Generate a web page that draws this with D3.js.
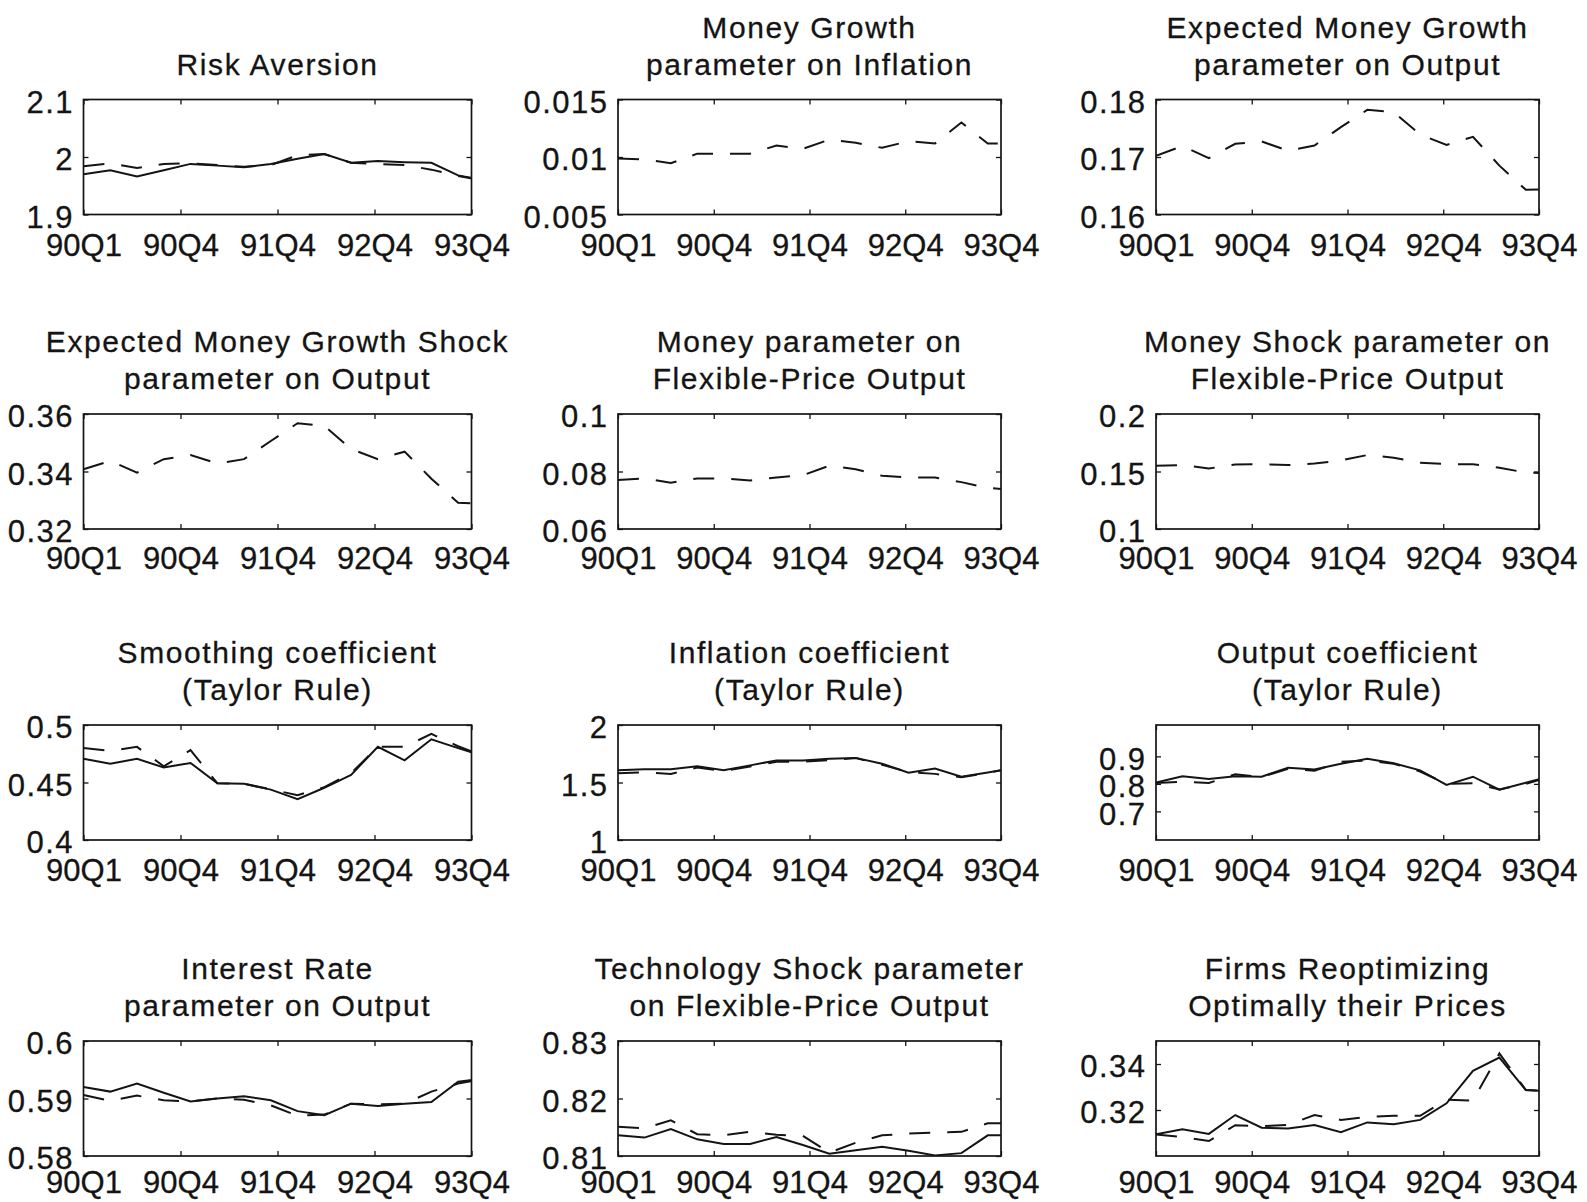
<!DOCTYPE html>
<html>
<head>
<meta charset="utf-8">
<script src="https://cdn.jsdelivr.net/npm/d3@7"></script>
<style>
  html, body { margin: 0; padding: 0; background: #fff; }
  svg { display: block; font-family: "Liberation Sans", Arial, Helvetica, sans-serif; }
</style>
</head>
<body>
<svg id="chart" width="1587" height="1202"></svg>
<script>
// Quarterly sample, 1990Q1 to 1993Q4
const quarters = ["90Q1","90Q2","90Q3","90Q4","91Q1","91Q2","91Q3","91Q4",
                  "92Q1","92Q2","92Q3","92Q4","93Q1","93Q2","93Q3","93Q4"];
const xTickLabels = ["90Q1","90Q4","91Q4","92Q4","93Q4"];

// Parameter paths: solid and dashed estimates
const riskAversionSolid  = [1.970,1.977,1.966,1.977,1.988,1.985,1.982,1.988,1.997,2.005,1.990,1.993,1.991,1.990,1.968,1.959];
const riskAversionDashed = [1.984,1.989,1.981,1.988,1.989,1.986,1.983,1.986,2.003,2.005,1.990,1.988,1.986,1.978,1.967,1.959];

const moneyGrowthInflationDashed = [0.00986,0.0098,0.00946,0.01029,0.01029,0.01029,0.0110,0.01071,0.01151,0.01123,0.0108,0.01137,0.01117,0.0130,0.01117,0.01117];

const expMoneyGrowthOutputDashed = [0.1702,0.1719,0.1698,0.1723,0.1727,0.1711,0.1720,0.1752,0.1782,0.1778,0.1739,0.1721,0.1735,0.1685,0.1643,0.1644];

const expMoneyShockOutputDashed = [0.3408,0.3437,0.3396,0.3443,0.3457,0.3428,0.3443,0.3506,0.3568,0.3559,0.3478,0.3443,0.3469,0.3375,0.3291,0.3287];

const moneyFlexOutputDashed = [0.0770,0.0776,0.0761,0.0776,0.0776,0.0769,0.0779,0.0787,0.0820,0.0808,0.0785,0.0779,0.0779,0.0763,0.0743,0.0735];

const moneyShockFlexOutputDashed = [0.1550,0.1556,0.1526,0.1561,0.1564,0.1556,0.1570,0.1596,0.1643,0.1620,0.1576,0.1564,0.1564,0.1532,0.1491,0.1485];

const smoothingSolid  = [0.4706,0.4663,0.4706,0.4630,0.4670,0.4494,0.4489,0.4438,0.4354,0.4454,0.4566,0.4811,0.4693,0.4876,0.4799,0.4725];
const smoothingDashed = [0.4800,0.4776,0.4810,0.4641,0.4782,0.4494,0.4489,0.4440,0.4390,0.4460,0.4580,0.4811,0.4810,0.4923,0.4815,0.4725];

const inflationCoefSolid  = [1.607,1.615,1.615,1.641,1.607,1.649,1.692,1.692,1.706,1.714,1.663,1.585,1.621,1.551,1.587,1.627];
const inflationCoefDashed = [1.580,1.590,1.575,1.630,1.600,1.640,1.680,1.680,1.695,1.712,1.655,1.590,1.575,1.545,1.585,1.627];

const outputCoefSolid  = [0.805,0.828,0.818,0.828,0.826,0.859,0.852,0.873,0.891,0.875,0.849,0.796,0.826,0.779,0.804,0.829];
const outputCoefDashed = [0.803,0.808,0.803,0.835,0.825,0.855,0.848,0.880,0.885,0.873,0.845,0.800,0.802,0.780,0.800,0.829];

const interestRateOutputSolid  = [0.5920,0.5912,0.5926,0.5910,0.5895,0.5900,0.5904,0.5897,0.5878,0.5871,0.5891,0.5887,0.5891,0.5894,0.5929,0.5935];
const interestRateOutputDashed = [0.5906,0.5896,0.5905,0.5897,0.5895,0.5900,0.5898,0.5888,0.5870,0.5872,0.5891,0.5890,0.5891,0.5912,0.5926,0.5935];

const techShockFlexSolid  = [0.8136,0.8132,0.8147,0.8129,0.8121,0.8121,0.8133,0.8119,0.8104,0.8110,0.8116,0.8109,0.8101,0.8105,0.8136,0.8136];
const techShockFlexDashed = [0.8151,0.8148,0.8162,0.8138,0.8136,0.8142,0.8137,0.8135,0.8106,0.8123,0.8136,0.8139,0.8141,0.8142,0.8157,0.8157];

const firmsReoptSolid  = [0.3094,0.3116,0.3096,0.3178,0.3123,0.3120,0.3135,0.3103,0.3146,0.3138,0.3157,0.3229,0.3370,0.3428,0.3287,0.3281];
const firmsReoptDashed = [0.3094,0.3083,0.3065,0.3134,0.3130,0.3135,0.3178,0.3157,0.3170,0.3175,0.3175,0.3245,0.3241,0.3446,0.3287,0.3281];

// One entry per subplot, row by row
const panels = [
  { title: ["Risk Aversion"], yDomain: [1.9, 2.1], yTicks: [1.9, 2, 2.1],
    solid: riskAversionSolid, dashed: riskAversionDashed },
  { title: ["Money Growth", "parameter on Inflation"], yDomain: [0.005, 0.015], yTicks: [0.005, 0.01, 0.015],
    solid: null, dashed: moneyGrowthInflationDashed },
  { title: ["Expected Money Growth", "parameter on Output"], yDomain: [0.16, 0.18], yTicks: [0.16, 0.17, 0.18],
    solid: null, dashed: expMoneyGrowthOutputDashed },
  { title: ["Expected Money Growth Shock", "parameter on Output"], yDomain: [0.32, 0.36], yTicks: [0.32, 0.34, 0.36],
    solid: null, dashed: expMoneyShockOutputDashed },
  { title: ["Money parameter on", "Flexible-Price Output"], yDomain: [0.06, 0.1], yTicks: [0.06, 0.08, 0.1],
    solid: null, dashed: moneyFlexOutputDashed },
  { title: ["Money Shock parameter on", "Flexible-Price Output"], yDomain: [0.1, 0.2], yTicks: [0.1, 0.15, 0.2],
    solid: null, dashed: moneyShockFlexOutputDashed },
  { title: ["Smoothing coefficient", "(Taylor Rule)"], yDomain: [0.4, 0.5], yTicks: [0.4, 0.45, 0.5],
    solid: smoothingSolid, dashed: smoothingDashed },
  { title: ["Inflation coefficient", "(Taylor Rule)"], yDomain: [1, 2], yTicks: [1, 1.5, 2],
    solid: inflationCoefSolid, dashed: inflationCoefDashed },
  { title: ["Output coefficient", "(Taylor Rule)"], yDomain: [0.596, 1.014], yTicks: [0.7, 0.8, 0.9],
    solid: outputCoefSolid, dashed: outputCoefDashed },
  { title: ["Interest Rate", "parameter on Output"], yDomain: [0.58, 0.6], yTicks: [0.58, 0.59, 0.6],
    solid: interestRateOutputSolid, dashed: interestRateOutputDashed },
  { title: ["Technology Shock parameter", "on Flexible-Price Output"], yDomain: [0.81, 0.83], yTicks: [0.81, 0.82, 0.83],
    solid: techShockFlexSolid, dashed: techShockFlexDashed },
  { title: ["Firms Reoptimizing", "Optimally their Prices"], yDomain: [0.30, 0.35], yTicks: [0.32, 0.34],
    solid: firmsReoptSolid, dashed: firmsReoptDashed }
];

// Subplot geometry
const colLeft  = [83.5, 618, 1156];
const colWidth = [388, 383, 383];
const rowTop   = [99.5, 414, 725, 1041];
const rowHeight = 115;
const rowLabelPad = [19, 18, 18.5, 14.5];   // gap from box to quarter labels
const xMax = 14.5;                 // visible range in quarter steps
const tickFractions = [0, 0.25, 0.5, 0.75, 1];
const tickFont = 31;
const titleFont = 30;
const ink = "#141414";

const svg = d3.select("#chart");
const fmt = d => String(+d.toFixed(4));

panels.forEach((p, k) => {
  const r = Math.floor(k / 3), c = k % 3;
  const w = colWidth[c], h = rowHeight;
  const g = svg.append("g").attr("transform", `translate(${colLeft[c]},${rowTop[r]})`);

  const x = d3.scaleLinear().domain([0, xMax]).range([0, w]);
  const y = d3.scaleLinear().domain(p.yDomain).range([h, 0]);
  const xTicks = tickFractions.map(f => f * xMax);

  // clip the series to the axes box
  const clipId = "clip" + k;
  g.append("clipPath").attr("id", clipId)
    .append("rect").attr("x", 0).attr("y", 0).attr("width", w).attr("height", h);

  const line = d3.line().x((d, i) => x(i)).y(d => y(d));
  const plot = g.append("g").attr("clip-path", `url(#${clipId})`);
  if (p.dashed) {
    plot.append("path").datum(p.dashed)
      .attr("d", line).attr("fill", "none")
      .attr("stroke", ink).attr("stroke-width", 2)
      .attr("stroke-dasharray", "21,17");
  }
  if (p.solid) {
    plot.append("path").datum(p.solid)
      .attr("d", line).attr("fill", "none")
      .attr("stroke", ink).attr("stroke-width", 2);
  }

  // left axis: labels plus inward ticks
  const yl = g.append("g").call(d3.axisLeft(y).tickValues(p.yTicks)
      .tickSizeInner(-5).tickSizeOuter(0).tickPadding(9.5).tickFormat(fmt));
  // right axis: ticks only
  const yr = g.append("g").attr("transform", `translate(${w},0)`)
    .call(d3.axisRight(y).tickValues(p.yTicks).tickSizeInner(-5).tickSizeOuter(0).tickFormat(""));
  // bottom axis: quarter labels
  const xb = g.append("g").attr("transform", `translate(0,${h})`)
    .call(d3.axisBottom(x).tickValues(xTicks).tickSizeInner(-5).tickSizeOuter(0)
      .tickPadding(rowLabelPad[r]).tickFormat((d, i) => xTickLabels[i]));
  // top axis: ticks only
  const xt = g.append("g")
    .call(d3.axisTop(x).tickValues(xTicks).tickSizeInner(-5).tickSizeOuter(0).tickFormat(""));

  [yl, yr, xb, xt].forEach(a => {
    a.select(".domain").remove();
    a.selectAll(".tick line").attr("stroke", ink).attr("stroke-width", 1.3);
    a.selectAll("text").attr("fill", ink)
      .attr("stroke", ink).attr("stroke-width", 0.3)
      .style("font-size", tickFont + "px");
  });
  yl.selectAll("text").attr("dy", "0.41em").style("letter-spacing", "1.5px");

  // axes box
  g.append("rect").attr("x", 0).attr("y", 0).attr("width", w).attr("height", h)
    .attr("fill", "none").attr("stroke", ink).attr("stroke-width", 1.7);

  // title, one or two lines above the box
  const lines = p.title;
  lines.forEach((t, j) => {
    const base = -25 - (lines.length - 1 - j) * 37;
    g.append("text")
      .attr("x", w / 2).attr("y", base)
      .attr("text-anchor", "middle")
      .attr("fill", ink)
      .attr("stroke", ink).attr("stroke-width", 0.3)
      .style("font-size", titleFont + "px")
      .style("letter-spacing", "1.6px")
      .text(t);
  });
});
</script>
</body>
</html>
